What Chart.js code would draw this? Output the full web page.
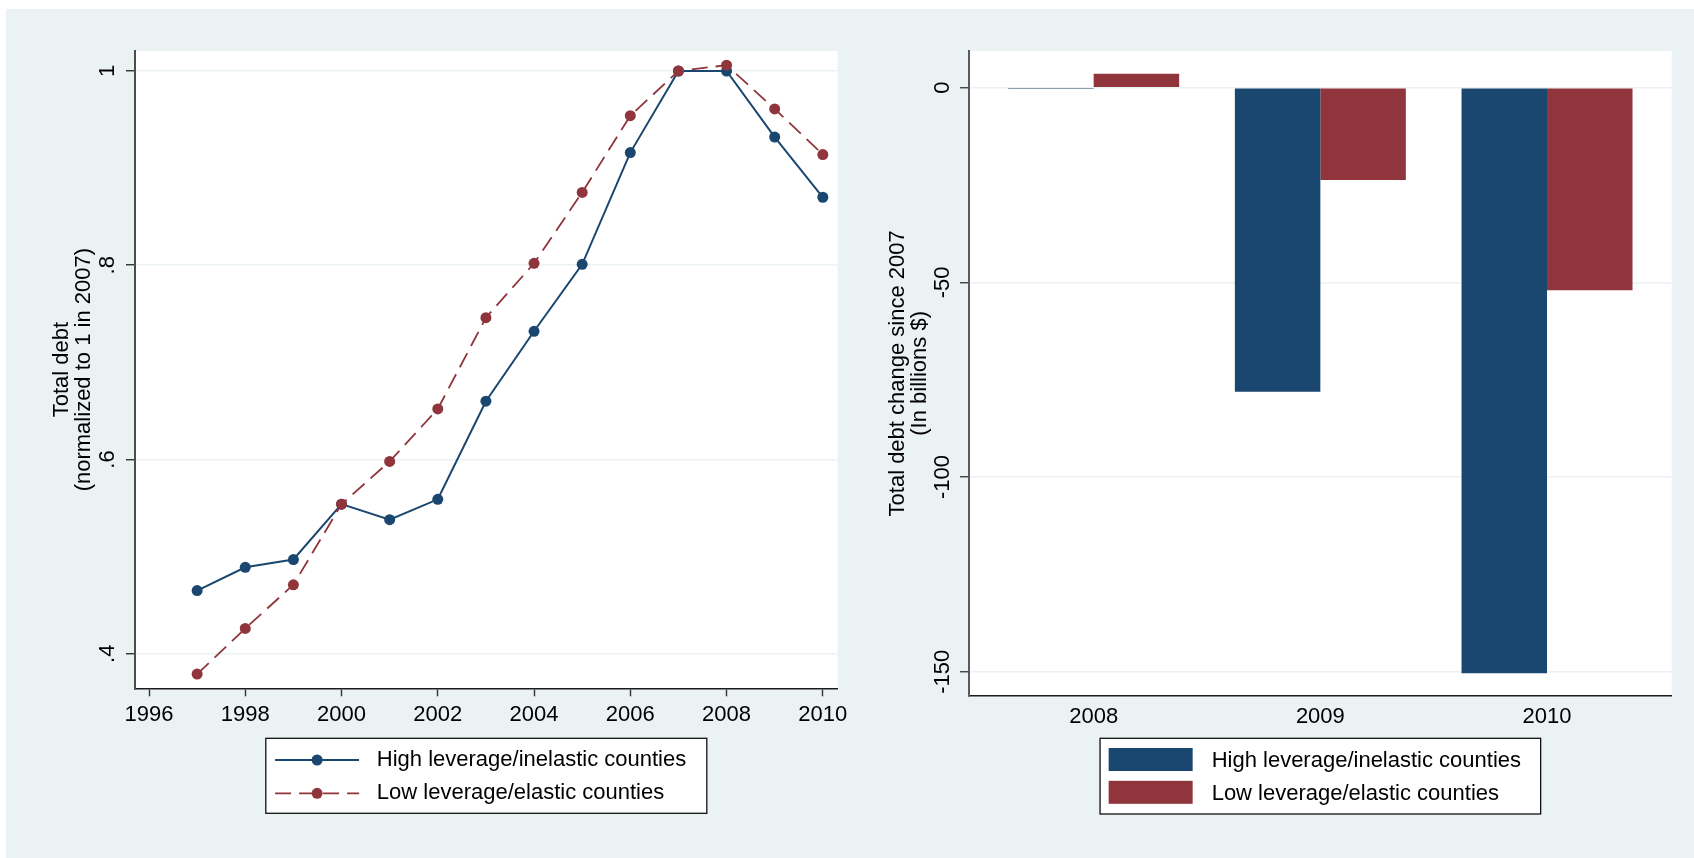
<!DOCTYPE html>
<html>
<head>
<meta charset="utf-8">
<title>Total debt: high vs. low leverage counties</title>
<script src="https://cdn.jsdelivr.net/npm/chart.js@4.4.1/dist/chart.umd.min.js"></script>
<style>
  html, body { margin: 0; padding: 0; background: #ffffff; width: 1694px; height: 858px; overflow: hidden; }
  #frame { position: absolute; left: 6px; top: 9px; right: 0; bottom: 0; background: #eaf2f3; }
  canvas { position: absolute; top: 0; }
  #left { left: 0; }
  #right { left: 860px; }
</style>
</head>
<body>
<div id="frame"></div>
<canvas id="left" width="860" height="858"></canvas>
<canvas id="right" width="834" height="858"></canvas>
<script>
// ---- data ----
const seriesNames = ['High leverage/inelastic counties', 'Low leverage/elastic counties'];

// Left panel: total debt normalized to 1 in 2007
const years = [1997, 1998, 1999, 2000, 2001, 2002, 2003, 2004, 2005, 2006, 2007, 2008, 2009, 2010];
const highLeverageDebt = [0.465, 0.489, 0.497, 0.554, 0.538, 0.559, 0.660, 0.732, 0.801, 0.916, 1.000, 1.000, 0.932, 0.870];
const lowLeverageDebt  = [0.379, 0.426, 0.471, 0.554, 0.598, 0.652, 0.746, 0.802, 0.875, 0.954, 1.000, 1.006, 0.961, 0.914];
const leftXTicks = [1996, 1998, 2000, 2002, 2004, 2006, 2008, 2010];
const leftYTicks = [0.4, 0.6, 0.8, 1];
const leftYTickLabels = ['.4', '.6', '.8', '1'];

// Right panel: change in total debt since 2007, billions of dollars
const barYears = [2008, 2009, 2010];
const highLeverageChange = [-0.3, -78.1, -150.4];
const lowLeverageChange  = [3.6, -23.7, -52.0];
const rightYTicks = [-150, -100, -50, 0];
const rightYTickLabels = ['-150', '-100', '-50', '0'];

// ---- styling ----
const NAVY = '#1a476f';
const MAROON = '#90353b';
const GRID = '#eaf2f3';
const FONT = '"Liberation Sans", Arial, Helvetica, sans-serif';

Chart.defaults.font.family = FONT;
Chart.defaults.color = '#000';

// white plot region behind the data
const plotBackground = {
  id: 'plotBackground',
  beforeDraw(chart) {
    const { ctx, chartArea: a } = chart;
    ctx.save();
    ctx.fillStyle = '#ffffff';
    ctx.fillRect(a.left, a.top, a.right - a.left, a.bottom - a.top);
    ctx.restore();
  }
};

// boxed two-row legend centred under the plot region
const boxLegend = {
  id: 'boxLegend',
  afterDraw(chart, args, o) {
    const { ctx, chartArea: a } = chart;
    const left = (a.left + a.right) / 2 - o.width / 2;
    const top = a.bottom + o.gap;
    ctx.save();
    ctx.fillStyle = '#ffffff';
    ctx.fillRect(left, top, o.width, o.height);
    ctx.strokeStyle = '#111';
    ctx.lineWidth = 1.3;
    ctx.strokeRect(left, top, o.width, o.height);
    chart.data.datasets.forEach((ds, i) => {
      const y = top + o.rows[i];
      const x0 = left + o.sample[0], x1 = left + o.sample[1];
      if (o.kind === 'line') {
        ctx.strokeStyle = ds.borderColor;
        ctx.lineWidth = ds.borderWidth;
        ctx.setLineDash(ds.borderDash || []);
        ctx.beginPath(); ctx.moveTo(x0, y); ctx.lineTo(x1, y); ctx.stroke();
        ctx.setLineDash([]);
        ctx.fillStyle = ds.pointBackgroundColor;
        ctx.beginPath(); ctx.arc((x0 + x1) / 2, y, ds.pointRadius, 0, Math.PI * 2); ctx.fill();
      } else {
        ctx.fillStyle = ds.backgroundColor;
        ctx.fillRect(x0, y - o.swatch / 2 - o.swatchShift, x1 - x0, o.swatch);
      }
      ctx.fillStyle = '#000';
      ctx.font = '22px ' + FONT;
      ctx.textBaseline = 'middle';
      ctx.textAlign = 'left';
      ctx.fillText(ds.label, left + o.textX, y);
    });
    ctx.restore();
  }
};

const yTitleFont = { size: 22, lineHeight: 1 };

// ---- left panel: line chart ----
new Chart(document.getElementById('left'), {
  type: 'line',
  data: {
    labels: years,
    datasets: [
      {
        label: seriesNames[0], data: highLeverageDebt,
        borderColor: NAVY, backgroundColor: NAVY, borderWidth: 2,
        pointBackgroundColor: NAVY, pointBorderColor: NAVY, pointRadius: 5.5, pointBorderWidth: 0,
        tension: 0, order: 1
      },
      {
        label: seriesNames[1], data: lowLeverageDebt,
        borderColor: MAROON, backgroundColor: MAROON, borderWidth: 1.8, borderDash: [16, 8],
        pointBackgroundColor: MAROON, pointBorderColor: MAROON, pointRadius: 5.5, pointBorderWidth: 0,
        tension: 0, order: 0
      }
    ]
  },
  options: {
    responsive: false, animation: false, devicePixelRatio: 1,
    events: [],
    layout: { padding: { left: 51, top: 51, right: 22.4, bottom: 129.7 } },
    plugins: {
      legend: { display: false }, tooltip: { enabled: false },
      boxLegend: { kind: 'line', width: 441, height: 75, gap: 50, rows: [21.7, 55], sample: [9.3, 93.3], textX: 111 }
    },
    scales: {
      x: {
        type: 'linear', min: 1995.709, max: 2010.307,
        afterBuildTicks: s => { s.ticks = leftXTicks.map(v => ({ value: v })); },
        afterFit: s => { s.height = 40; },
        ticks: { font: { size: 22 }, padding: 5.6, maxRotation: 0, callback: v => String(v) },
        grid: { display: true, drawOnChartArea: false, drawTicks: true, tickLength: 8, tickColor: '#333', tickWidth: 1.4 },
        border: { display: true, color: '#1a1a1a', width: 1.6 }
      },
      y: {
        type: 'linear', min: 0.3644, max: 1.0206,
        afterBuildTicks: s => { s.ticks = leftYTicks.map(v => ({ value: v })); },
        afterFit: s => { s.width = 84; },
        ticks: {
          font: { size: 22 }, minRotation: 90, maxRotation: 90, crossAlign: 'center', padding: 8.5,
          callback: v => leftYTickLabels[leftYTicks.indexOf(v)]
        },
        grid: { color: GRID, lineWidth: 1.5, tickLength: 9, tickColor: '#222', tickWidth: 1.3 },
        border: { display: true, color: '#4d4d4d', width: 2 },
        title: { display: true, text: ['Total debt', '(normalized to 1 in 2007)'], font: yTitleFont, padding: 0, color: '#000' }
      }
    }
  },
  plugins: [plotBackground, boxLegend]
});

// ---- right panel: grouped bars ----
new Chart(document.getElementById('right'), {
  type: 'bar',
  data: {
    labels: barYears,
    datasets: [
      { label: seriesNames[0], data: highLeverageChange, backgroundColor: NAVY, borderColor: NAVY, borderWidth: 0 },
      { label: seriesNames[1], data: lowLeverageChange, backgroundColor: MAROON, borderColor: MAROON, borderWidth: 0 }
    ]
  },
  options: {
    responsive: false, animation: false, devicePixelRatio: 1,
    events: [],
    layout: { padding: { left: 27, top: 51, right: 22.3, bottom: 122.3 } },
    datasets: { bar: { categoryPercentage: 0.7543, barPercentage: 1 } },
    plugins: {
      legend: { display: false }, tooltip: { enabled: false },
      boxLegend: { kind: 'bar', width: 440.6, height: 75.7, gap: 42.6, rows: [22.7, 55.5], sample: [8.6, 92.6], swatch: 23, swatchShift: 1.5, textX: 111.6 }
    },
    scales: {
      x: {
        type: 'linear', min: 2007.45, max: 2010.55, offset: false,
        afterBuildTicks: s => { s.ticks = barYears.map(v => ({ value: v })); },
        afterFit: s => { s.height = 40; },
        ticks: { font: { size: 22 }, padding: 8.1, maxRotation: 0, callback: v => String(v) },
        grid: { display: false, drawTicks: false, tickLength: 0 },
        border: { display: true, color: '#1a1a1a', width: 1.6 }
      },
      y: {
        type: 'linear', min: -156.16, max: 9.43,
        afterBuildTicks: s => { s.ticks = rightYTicks.map(v => ({ value: v })); },
        afterFit: s => { s.width = 82; },
        ticks: {
          font: { size: 22 }, minRotation: 90, maxRotation: 90, crossAlign: 'center', padding: -5,
          callback: v => rightYTickLabels[rightYTicks.indexOf(v)]
        },
        grid: { color: GRID, lineWidth: 1.5, tickLength: 9, tickColor: '#333', tickWidth: 1.3 },
        border: { display: true, color: '#5a5a5a', width: 2 },
        title: { display: true, text: ['Total debt change since 2007', '(In billions $)'], font: yTitleFont, padding: 0, color: '#000' }
      }
    }
  },
  plugins: [plotBackground, boxLegend]
});
</script>
</body>
</html>
